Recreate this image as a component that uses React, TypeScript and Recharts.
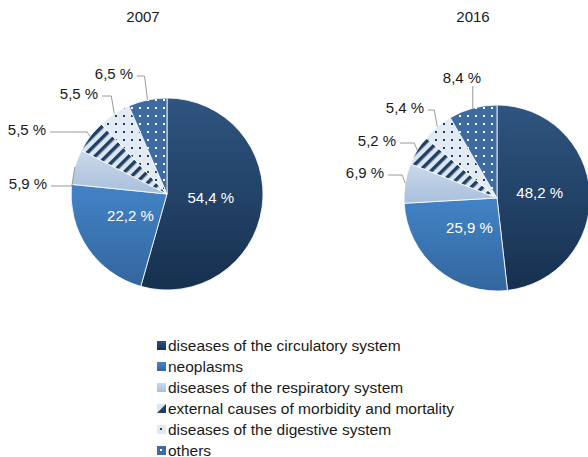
import { PieChart, Pie, Cell, Legend } from 'recharts';

// Causes of death, share of all deaths (%)
const CATEGORIES = [
  'diseases of the circulatory system',
  'neoplasms',
  'diseases of the respiratory system',
  'external causes of morbidity and mortality',
  'diseases of the digestive system',
  'others',
];
const YEARS = ['2007', '2016'];
const SHARE_2007 = [54.4, 22.2, 5.9, 5.5, 5.5, 6.5];
const SHARE_2016 = [48.2, 25.9, 6.9, 5.2, 5.4, 8.4];

const FILLS = [
  'url(#gradCirc)',
  'url(#gradNeo)',
  'url(#gradResp)',
  'url(#patStripes)',
  'url(#patDots)',
  'url(#patOthers)',
];

// where the outside labels sit, relative to each pie's centre (small slices only)
const OUTER_LABELS_2007: Record<number, [number, number]> = {
  2: [-139, -11],
  3: [-140, -65],
  4: [-88, -101],
  5: [-53, -121],
};
const OUTER_LABELS_2016: Record<number, [number, number]> = {
  2: [-132, -26],
  3: [-120, -58],
  4: [-92, -91],
  5: [-35, -121],
};

const FONT = '"Liberation Sans", Arial, sans-serif';
const RADIAN = Math.PI / 180;

const fmt = (v: number) => `${v.toFixed(1).replace('.', ',')} %`;

const toRows = (values: number[]) =>
  CATEGORIES.map((name, i) => ({ name, value: values[i] }));

function makeLabel(offsets: Record<number, [number, number]>) {
  return (props: any) => {
    const { cx, cy, midAngle, outerRadius, index, value } = props;
    const cos = Math.cos(-midAngle * RADIAN);
    const sin = Math.sin(-midAngle * RADIAN);
    if (index < 2) {
      const r = outerRadius * 0.46;
      return (
        <text
          x={cx + r * cos}
          y={cy + r * sin - 3}
          fill="#fff"
          fontSize={15}
          fontFamily={FONT}
          textAnchor="middle"
          dominantBaseline="central"
        >
          {fmt(value)}
        </text>
      );
    }
    const [dx, dy] = offsets[index];
    const tx = cx + dx;
    const ty = cy + dy;
    const ex = cx + outerRadius * cos;
    const ey = cy + outerRadius * sin;
    let points: string;
    if (Math.abs(ex - tx) < 22) {
      points = `${ex},${ty + 9} ${ex},${ey}`;
    } else {
      const sx = tx + 23;
      const kx = Math.max(sx, ex - 3);
      points = `${sx},${ty + 3} ${kx},${ty + 3} ${ex},${ey}`;
    }
    return (
      <g>
        <polyline points={points} fill="none" stroke="#9a9a9a" strokeWidth={1} />
        <text
          x={tx}
          y={ty}
          fill="#1a1a1a"
          fontSize={15}
          fontFamily={FONT}
          textAnchor="middle"
          dominantBaseline="central"
        >
          {fmt(value)}
        </text>
      </g>
    );
  };
}

function LegendContent() {
  return (
    <div style={{ fontFamily: FONT, fontSize: 15.5, color: '#1a1a1a' }}>
      {CATEGORIES.map((name, i) => (
        <div key={name} style={{ display: 'flex', alignItems: 'center', height: 21 }}>
          <svg width={9} height={9} style={{ marginRight: 2 }}>
            {i === 3 ? (
              <>
                <rect width={9} height={9} fill="#dce6f2" />
                <polygon points="9,0 9,9 0,9" fill="#1f3f64" />
              </>
            ) : (
              <rect width={9} height={9} fill={FILLS[i]} />
            )}
          </svg>
          <span>{name}</span>
        </div>
      ))}
    </div>
  );
}

export default function App() {
  return (
    <div style={{ position: 'absolute', left: 0, top: 0, background: '#fff' }}>
      <PieChart width={588} height={457} margin={{ top: 0, right: 0, bottom: 0, left: 0 }}>
        <defs>
          <linearGradient id="gradCirc" x1="0" y1="0" x2="0" y2="1">
            <stop offset="0%" stopColor="#2f5580" />
            <stop offset="100%" stopColor="#16304f" />
          </linearGradient>
          <linearGradient id="gradNeo" x1="0" y1="0" x2="0" y2="1">
            <stop offset="0%" stopColor="#4283c6" />
            <stop offset="100%" stopColor="#33669e" />
          </linearGradient>
          <linearGradient id="gradResp" x1="0" y1="0" x2="0" y2="1">
            <stop offset="0%" stopColor="#cbd9eb" />
            <stop offset="100%" stopColor="#a8bfdc" />
          </linearGradient>
          <pattern
            id="patStripes"
            patternUnits="userSpaceOnUse"
            width={8}
            height={8}
            patternTransform="rotate(45)"
          >
            <rect width={8} height={8} fill="#dce6f2" />
            <rect width={3.5} height={8} fill="#1f3f64" />
          </pattern>
          <pattern id="patDots" patternUnits="userSpaceOnUse" width={8} height={8}>
            <rect width={8} height={8} fill="#e2eaf4" />
            <rect x={3} y={3} width={2} height={2} fill="#1f3f64" />
          </pattern>
          <pattern id="patOthers" patternUnits="userSpaceOnUse" width={8} height={8}>
            <rect width={8} height={8} fill="#3e6ba2" />
            <rect x={3} y={3} width={2} height={2} fill="#ffffff" />
          </pattern>
        </defs>

        <text x={143} y={16} textAnchor="middle" dominantBaseline="central" fontSize={15} fontFamily={FONT} fill="#1a1a1a">
          {YEARS[0]}
        </text>
        <text x={473} y={16} textAnchor="middle" dominantBaseline="central" fontSize={15} fontFamily={FONT} fill="#1a1a1a">
          {YEARS[1]}
        </text>

        <Pie
          data={toRows(SHARE_2007)}
          dataKey="value"
          nameKey="name"
          cx={167}
          cy={194}
          outerRadius={96}
          startAngle={90}
          endAngle={-270}
          stroke="#ffffff"
          strokeWidth={0.8}
          label={makeLabel(OUTER_LABELS_2007)}
          labelLine={false}
          isAnimationActive={false}
        >
          {SHARE_2007.map((_, i) => (
            <Cell key={i} fill={FILLS[i]} />
          ))}
        </Pie>
        <Pie
          data={toRows(SHARE_2016)}
          dataKey="value"
          nameKey="name"
          cx={497}
          cy={198}
          outerRadius={93}
          startAngle={90}
          endAngle={-270}
          stroke="#ffffff"
          strokeWidth={0.8}
          label={makeLabel(OUTER_LABELS_2016)}
          labelLine={false}
          isAnimationActive={false}
        >
          {SHARE_2016.map((_, i) => (
            <Cell key={i} fill={FILLS[i]} />
          ))}
        </Pie>

        <Legend
          content={() => <LegendContent />}
          layout="vertical"
          wrapperStyle={{ position: 'absolute', left: 157, top: 335, width: 330 }}
        />
      </PieChart>
    </div>
  );
}
